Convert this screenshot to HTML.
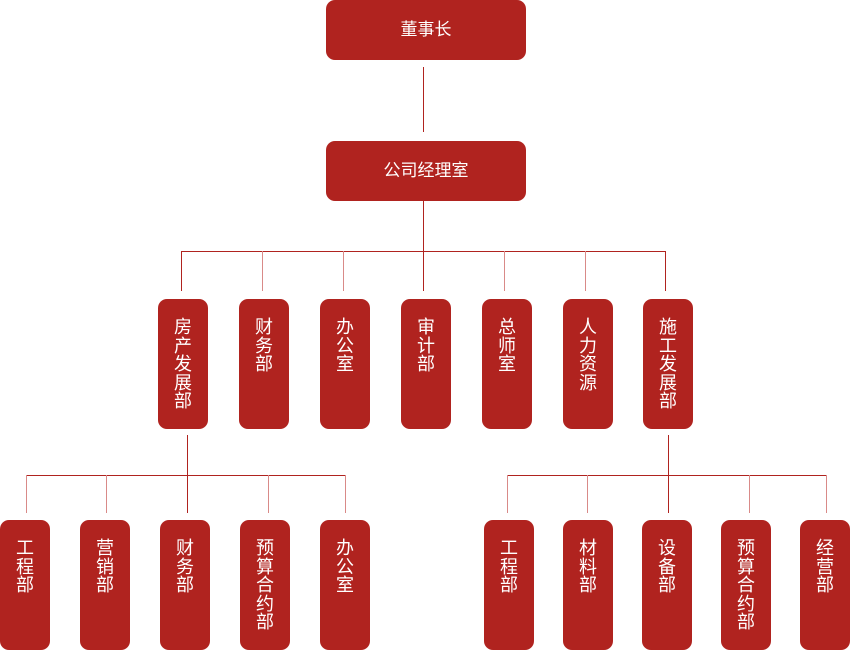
<!DOCTYPE html>
<html><head><meta charset="utf-8"><style>
body{margin:0;width:850px;height:650px;background:#fff;position:relative;overflow:hidden;font-family:"Liberation Sans","Noto Sans CJK SC",sans-serif}
.b{position:absolute;background:#b0231f;color:#fff;border-radius:9px;box-sizing:border-box}
.h{width:200px;height:60px;left:326px;font-size:17px;line-height:60px;text-align:center}
.v{width:50px;height:130px;font-size:18px;line-height:18.5px;text-align:center;padding-top:19px}
.l{position:absolute;background:#b0231f}
.lp{position:absolute;background:#d98a88}
</style></head><body>
<div class="b h" style="top:0">董事长</div>
<div class="b h" style="top:141px">公司经理室</div>
<div class="l" style="left:423px;top:67px;width:1px;height:65px"></div>
<div class="l" style="left:423px;top:201px;width:1px;height:90px"></div>
<div class="l" style="left:181px;top:251px;width:485px;height:1px"></div>
<div class="l" style="left:181px;top:251px;width:1px;height:40px"></div>
<div class="lp" style="left:262px;top:251px;width:1px;height:40px"></div>
<div class="lp" style="left:343px;top:251px;width:1px;height:40px"></div>
<div class="lp" style="left:504px;top:251px;width:1px;height:40px"></div>
<div class="lp" style="left:585px;top:251px;width:1px;height:40px"></div>
<div class="l" style="left:665px;top:251px;width:1px;height:40px"></div>

<div class="b v" style="left:158px;top:299px">房<br>产<br>发<br>展<br>部</div>
<div class="b v" style="left:239px;top:299px">财<br>务<br>部</div>
<div class="b v" style="left:320px;top:299px">办<br>公<br>室</div>
<div class="b v" style="left:401px;top:299px">审<br>计<br>部</div>
<div class="b v" style="left:482px;top:299px">总<br>师<br>室</div>
<div class="b v" style="left:563px;top:299px">人<br>力<br>资<br>源</div>
<div class="b v" style="left:643px;top:299px">施<br>工<br>发<br>展<br>部</div>

<div class="l" style="left:187px;top:435px;width:1px;height:78px"></div>
<div class="l" style="left:26px;top:475px;width:320px;height:1px"></div>
<div class="lp" style="left:26px;top:475px;width:1px;height:38px"></div>
<div class="lp" style="left:106px;top:475px;width:1px;height:38px"></div>
<div class="lp" style="left:268px;top:475px;width:1px;height:38px"></div>
<div class="lp" style="left:345px;top:475px;width:1px;height:38px"></div>

<div class="l" style="left:668px;top:435px;width:1px;height:78px"></div>
<div class="l" style="left:507px;top:475px;width:320px;height:1px"></div>
<div class="lp" style="left:507px;top:475px;width:1px;height:38px"></div>
<div class="lp" style="left:587px;top:475px;width:1px;height:38px"></div>
<div class="lp" style="left:749px;top:475px;width:1px;height:38px"></div>
<div class="lp" style="left:826px;top:475px;width:1px;height:38px"></div>

<div class="b v" style="left:0;top:520px">工<br>程<br>部</div>
<div class="b v" style="left:80px;top:520px">营<br>销<br>部</div>
<div class="b v" style="left:160px;top:520px">财<br>务<br>部</div>
<div class="b v" style="left:240px;top:520px">预<br>算<br>合<br>约<br>部</div>
<div class="b v" style="left:320px;top:520px">办<br>公<br>室</div>

<div class="b v" style="left:484px;top:520px">工<br>程<br>部</div>
<div class="b v" style="left:563px;top:520px">材<br>料<br>部</div>
<div class="b v" style="left:642px;top:520px">设<br>备<br>部</div>
<div class="b v" style="left:721px;top:520px">预<br>算<br>合<br>约<br>部</div>
<div class="b v" style="left:800px;top:520px">经<br>营<br>部</div>
</body></html>
